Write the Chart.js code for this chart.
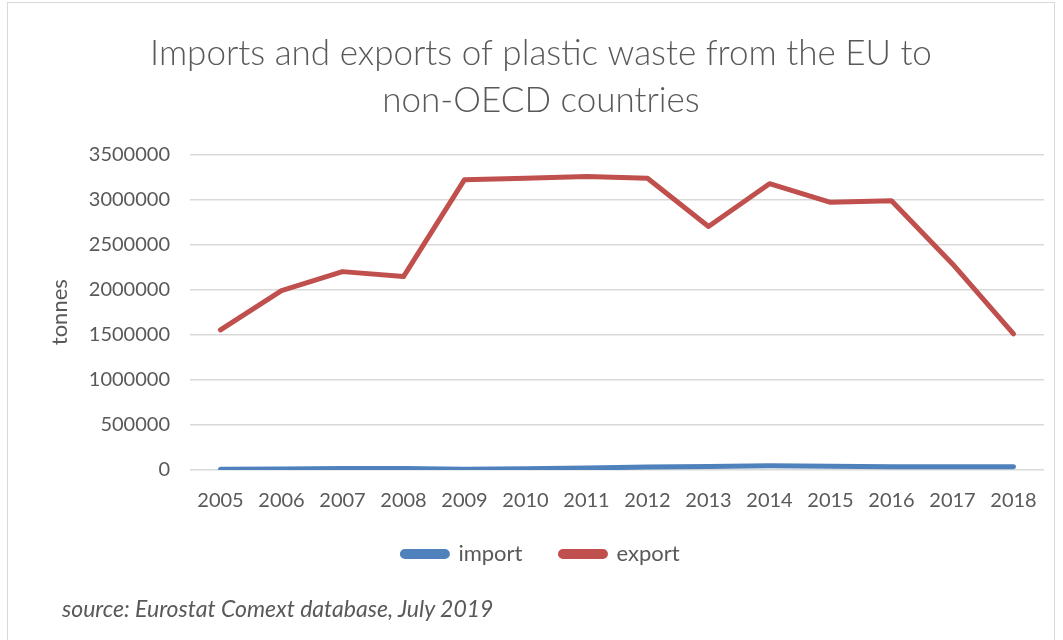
<!DOCTYPE html>
<html>
<head>
<meta charset="utf-8">
<script src="https://cdn.jsdelivr.net/npm/chart.js@4/dist/chart.umd.min.js"></script>
<style>
  body { margin: 0; background: #fff; }
  #wrap { position: relative; width: 1063px; height: 640px; overflow: hidden; }
  #frame { position: absolute; left: 7px; top: 2px; width: 1048px; height: 700px; border: 1.5px solid #d9d9d9; box-sizing: border-box; }
  #chart { position: absolute; left: 0; top: 0; }
  #source { position: absolute; left: 62px; top: 594px; font: italic 23px Lato, sans-serif; color: #595959; }
</style>
</head>
<body>
<div id="wrap">
  <div id="frame"></div>
  <canvas id="chart" width="1063" height="640"></canvas>
  <div id="source">source: Eurostat Comext database, July 2019</div>
</div>
<script>
const years = ["2005", "2006", "2007", "2008", "2009", "2010", "2011",
  "2012", "2013", "2014", "2015", "2016", "2017", "2018"];
const importTonnes = [9000, 12000, 18000, 18000, 8000, 14000, 22000,
  33000, 40000, 48000, 42000, 37000, 37000, 36000];
const exportTonnes = [1555000, 1990000, 2200000, 2145000, 3220000, 3235000, 3255000,
  3235000, 2700000, 3175000, 2968000, 2986000, 2285000, 1509000];

const textColor = "#595959";
const font = "Lato, sans-serif";

// legend padding also sets the gap between the two items, so pull the box up afterwards
const liftLegend = {
  id: "liftLegend",
  afterLayout(chart) {
    chart.legend.top -= 27;
    chart.legend.bottom -= 27;
  },
};

const ctx = document.getElementById("chart").getContext("2d");
new Chart(ctx, {
  type: "line",
  data: {
    labels: years,
    datasets: [
      {
        label: "import",
        data: importTonnes,
        borderColor: "#4F81BD",
        backgroundColor: "#4F81BD",
        borderWidth: 5,
        pointRadius: 0,
        borderCapStyle: "round",
        borderJoinStyle: "round",
      },
      {
        label: "export",
        data: exportTonnes,
        borderColor: "#C0504D",
        backgroundColor: "#C0504D",
        borderWidth: 5,
        pointRadius: 0,
        borderCapStyle: "round",
        borderJoinStyle: "round",
      },
    ],
  },
  options: {
    responsive: false,
    animation: false,
    layout: { padding: { top: 31, right: 19, bottom: 38, left: 38 } },
    scales: {
      x: {
        offset: true,
        grid: { display: false, drawTicks: false },
        border: { display: false },
        ticks: { color: textColor, font: { family: font, size: 20 }, padding: 19, maxRotation: 0 },
      },
      y: {
        min: 0,
        max: 3500000,
        afterFit: (scale) => { scale.width = 152; },
        grid: { color: "#d9d9d9", lineWidth: 1.5, drawTicks: false },
        border: { display: false },
        ticks: {
          stepSize: 500000,
          color: textColor,
          font: { family: font, size: 20 },
          padding: 20,
          callback: (v) => String(v),
        },
        title: {
          display: true,
          text: "tonnes",
          color: textColor,
          font: { family: font, size: 22 },
          padding: { top: 9, bottom: 0 },
        },
      },
    },
    plugins: {
      legend: {
        position: "bottom",
        labels: {
          color: textColor,
          font: { family: font, size: 22 },
          boxWidth: 45,
          boxHeight: 5,
          useBorderRadius: true,
          borderRadius: 2.5,
          padding: 38,
        },
      },
      title: {
        display: true,
        text: ["Imports and exports of plastic waste from the EU to", "non-OECD countries"],
        color: textColor,
        font: { family: font, size: 35, weight: "300", lineHeight: 1.32 },
        padding: { top: 0, bottom: 31 },
      },
      tooltip: { enabled: false },
    },
  },
  plugins: [liftLegend],
});
</script>
</body>
</html>
